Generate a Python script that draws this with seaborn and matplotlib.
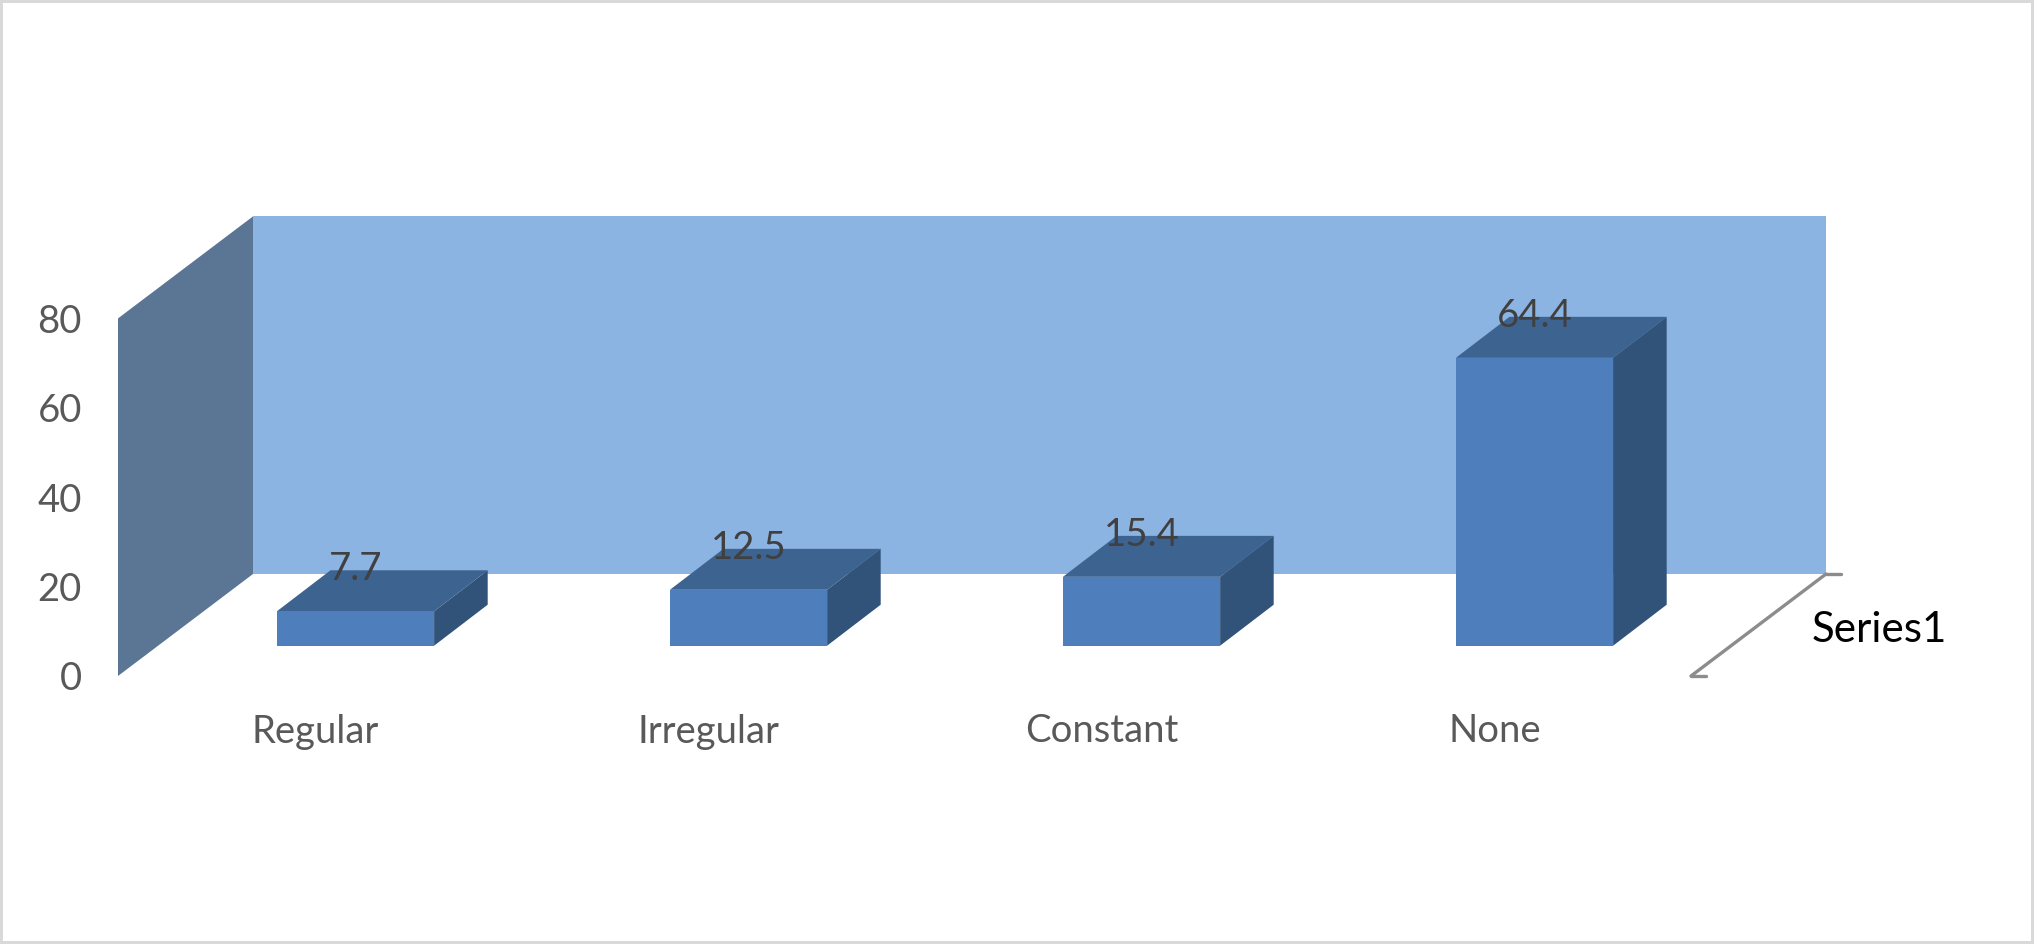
import numpy as np
import pandas as pd
import matplotlib.pyplot as plt
from matplotlib.patches import Polygon, Rectangle
import seaborn as sns

sns.set_theme(style="white")
plt.rcParams['font.family'] = ['Lato', 'DejaVu Sans']

# Chart data
categories = ["Regular", "Irregular", "Constant", "None"]
values = [7.7, 12.5, 15.4, 64.4]
y_ticks = [0, 20, 40, 60, 80]
series_name = "Series1"

# Colours
BACK_WALL = "#8CB4E2"
SIDE_WALL = "#5B7594"
BAR_FRONT = "#4E7FBC"
BAR_TOP = "#3D6391"
BAR_SIDE = "#315379"
AXIS_GREY = "#8C8C8C"
TEXT_GREY = "#595959"
LABEL_GREY = "#404040"
BORDER = "#D9D9D9"

# Scale of the bar plane, in pixels
W, H = 2034, 944
PX_PER_CAT = 393.0
PX_PER_UNIT = 4.47
ZERO_X = 355.5
ZERO_Y = 645.7
LEFT_PX = 118.0
BOTTOM_PX = 676.0

df = pd.DataFrame({"category": categories, "value": values})

fig = plt.figure(figsize=(W / 100, H / 100), dpi=100, facecolor="white")
ax = fig.add_axes([LEFT_PX / W, (H - BOTTOM_PX) / H, (W - LEFT_PX) / W, BOTTOM_PX / H])
ax.patch.set_alpha(0)

sns.barplot(data=df, x="category", y="value", color=BAR_FRONT, saturation=1,
            width=0.4, ax=ax, zorder=4, linewidth=0)

x_low = (LEFT_PX - ZERO_X) / PX_PER_CAT
y_low = (ZERO_Y - BOTTOM_PX) / PX_PER_UNIT
ax.set_xlim(x_low, (W - ZERO_X) / PX_PER_CAT)
ax.set_ylim(y_low, ZERO_Y / PX_PER_UNIT)

# Walls: offset of the back plane from the front one
wall_dx = 135 / PX_PER_CAT
wall_dy = 102 / PX_PER_UNIT
wall_right = (1826 - ZERO_X) / PX_PER_CAT
y_top = y_low + max(y_ticks)

ax.add_patch(Polygon([(x_low + wall_dx, y_low + wall_dy), (wall_right, y_low + wall_dy),
                      (wall_right, y_top + wall_dy), (x_low + wall_dx, y_top + wall_dy)],
                     closed=True, fc=BACK_WALL, ec="none", zorder=1, clip_on=False))
ax.add_patch(Polygon([(x_low, y_low), (x_low + wall_dx, y_low + wall_dy),
                      (x_low + wall_dx, y_top + wall_dy), (x_low, y_top)],
                     closed=True, fc=SIDE_WALL, ec="none", zorder=1, clip_on=False))

# Depth faces of the bars, built from what seaborn drew
bar_dx = 53.6 / PX_PER_CAT
bar_dy = 41 / PX_PER_UNIT
for bar in list(ax.patches):
    if not isinstance(bar, Rectangle):
        continue
    x0, x1 = bar.get_x(), bar.get_x() + bar.get_width()
    top = bar.get_height()
    ax.add_patch(Polygon([(x0, top), (x1, top), (x1 + bar_dx, top + bar_dy), (x0 + bar_dx, top + bar_dy)],
                         closed=True, fc=BAR_TOP, ec="none", zorder=3))
    ax.add_patch(Polygon([(x1, 0), (x1 + bar_dx, bar_dy), (x1 + bar_dx, top + bar_dy), (x1, top)],
                         closed=True, fc=BAR_SIDE, ec="none", zorder=3))

# Value labels sit above the front top edge
for i, v in enumerate(values):
    ax.text(i, v + 9.4, f"{v:g}", ha="center", va="center", fontsize=27.5, color=LABEL_GREY, zorder=6)

# Depth axis line with its two little ticks
tick_dx = 15 / PX_PER_CAT
ax.plot([wall_right - wall_dx, wall_right], [y_low, y_low + wall_dy], color=AXIS_GREY, lw=2.4,
        zorder=2, clip_on=False)
ax.plot([wall_right - wall_dx, wall_right - wall_dx + tick_dx], [y_low, y_low], color=AXIS_GREY, lw=2.4,
        zorder=2, clip_on=False)
ax.plot([wall_right, wall_right + tick_dx], [y_low + wall_dy, y_low + wall_dy], color=AXIS_GREY, lw=2.4,
        zorder=2, clip_on=False)
ax.text((1812 - ZERO_X) / PX_PER_CAT, (ZERO_Y - 629.5) / PX_PER_UNIT, series_name, ha="left", va="center",
        fontsize=30.3, color="black")

ax.set_yticks([t + y_low for t in y_ticks])
ax.set_yticklabels([str(t) for t in y_ticks])
ax.set_xticks([i - 40 / PX_PER_CAT for i in range(len(categories))])
ax.set_xticklabels(categories)
ax.tick_params(axis="y", length=0, pad=26, labelsize=27.5, labelcolor=TEXT_GREY)
ax.tick_params(axis="x", length=0, pad=27, labelsize=27.5, labelcolor=TEXT_GREY)
ax.set_xlabel("")
ax.set_ylabel("")
sns.despine(ax=ax, left=True, bottom=True)

# Thin frame round the whole chart
fig.add_artist(Rectangle((0, 0), 1, 1, transform=fig.transFigure, fill=False, ec=BORDER, lw=4.3))

fig.savefig("out.png", dpi=100)
